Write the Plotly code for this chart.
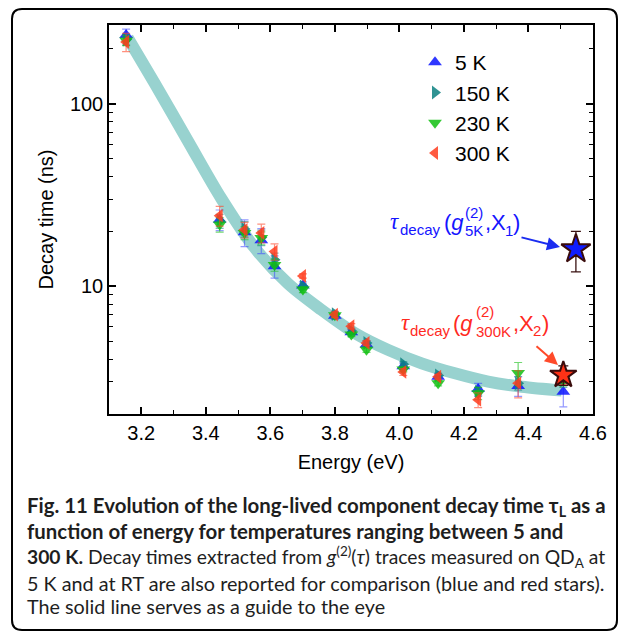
import math
import plotly.graph_objects as go

# ---- data ------------------------------------------------------------
energy = [3.153, 3.443, 3.52, 3.572, 3.613, 3.701, 3.80, 3.851, 3.898, 4.012, 4.12, 4.244, 4.368, 4.508]

tau_5K = [238, 23.2, 19.8, 17.9, 12.9, 10.1, 6.9, 5.6, 4.8, 3.65, 3.2, 2.74, 2.85, 2.65]
err_5K = [18, 3.0, 3.3, 2.8, 1.8, 0.5, 0.3, 0.2, 0.2, 0.15, 0.12, 0.2, 0.35, 0.46]

tau_150K = [225, 22.8, 20.6, 18.5, 14.0, 10.0, 7.05, 5.7, 4.9, 3.75, 3.25, 2.65, 2.95, 3.05]
err_150K = [15, 2.0, 2.0, 1.8, 1.2, 0.4, 0.25, 0.2, 0.15, 0.12, 0.1, 0.15, 0.25, 0.25]

tau_230K = [222, 21.8, 19.6, 18.4, 13.1, 9.6, 6.95, 5.45, 4.5, 3.5, 2.95, 2.6, 3.35, 3.05]
err_230K = [14, 2.0, 1.6, 1.5, 1.0, 0.35, 0.2, 0.15, 0.15, 0.1, 0.1, 0.2, 0.48, 0.2]

tau_300K = [218, 24.4, 20.4, 19.6, 15.5, 11.4, 7.0, 6.05, 4.9, 3.4, 3.2, 2.39, 2.95, 3.2]
err_300K = [25, 3.0, 2.0, 2.3, 1.6, 0.3, 0.25, 0.2, 0.15, 0.15, 0.1, 0.22, 0.5, 0.3]

# g(2) decay times (stars): 5 K on X1, 300 K on X2
star_energy = [4.547, 4.508]
star_tau = [16.0, 3.27]
star_err = [4.0, 0.4]

# guide-to-the-eye curve
guide_energy = [3.158, 3.241, 3.345, 3.448, 3.551, 3.655, 3.758, 3.862, 3.965, 4.069, 4.172, 4.275, 4.379, 4.503]
guide_tau = [230, 130, 62.4, 30.3, 16.3, 10.35, 7.45, 5.55, 4.49, 3.79, 3.34, 3.01, 2.82, 2.69]

x_ticks = [3.2, 3.4, 3.6, 3.8, 4.0, 4.2, 4.4, 4.6]

# ---- geometry ----------------------------------------------------------
W, H = 624, 632
ML, MR, MT, MB = 109, 31, 25, 218
PW = W - ML - MR
PH = H - MT - MB


def pxx(x):
    return (x - ML) / PW


def pxy(y):
    return (H - MB - y) / PH


AX_FONT = "Liberation Sans, Arial, Helvetica, sans-serif"
SERIF = "Liberation Serif, Times New Roman, serif"
CAP_FONT = "Lato, Open Sans, sans-serif"

fig = go.Figure()

fig.add_trace(go.Scatter(
    x=guide_energy, y=guide_tau, mode="lines",
    line=dict(color="#98d2cf", width=12, shape="spline", smoothing=0.9),
    showlegend=False, hoverinfo="skip",
))

series = [
    ("5 K", tau_5K, err_5K, "triangle-up", "#0a14ff", "rgba(60,70,255,0.55)"),
    ("150 K", tau_150K, err_150K, "triangle-right", "#0c8080", "rgba(20,130,130,0.55)"),
    ("230 K", tau_230K, err_230K, "triangle-down", "#10c010", "rgba(20,190,20,0.6)"),
    ("300 K", tau_300K, err_300K, "triangle-left", "#ff3d1f", "rgba(255,70,40,0.6)"),
]

for name, tau, err, sym, col, ecol in series:
    fig.add_trace(go.Scatter(
        x=energy, y=tau, mode="markers", name=name,
        marker=dict(symbol=sym, size=12, color=col, opacity=0.85, line=dict(width=0)),
        error_y=dict(type="data", array=err, visible=True, color=ecol, thickness=1.2, width=4),
    ))

fig.add_trace(go.Scatter(
    x=star_energy, y=star_tau, mode="markers", showlegend=False,
    marker=dict(symbol="star", size=[22, 20], color=["#0f1cff", "#ff3216"], opacity=1,
                line=dict(color="#3a0c0c", width=2)),
    error_y=dict(type="data", array=star_err, visible=True, color="#3a1212", thickness=1.3, width=5),
))

axis_common = dict(
    showline=True, linecolor="black", linewidth=1.5, mirror="allticks",
    ticks="inside", ticklen=7, tickwidth=1.5, tickcolor="black",
    showgrid=False, zeroline=False,
    tickfont=dict(family=AX_FONT, size=20, color="black"),
)

fig.update_xaxes(
    range=[3.1, 4.6], tickvals=x_ticks, ticktext=[f"{v:.1f}" for v in x_ticks],
    title=dict(text="Energy (eV)", font=dict(family=AX_FONT, size=20, color="black"), standoff=12),
    minor=dict(ticks="inside", ticklen=4, tickwidth=1.2, tickcolor="black", dtick=0.1, tick0=3.1, showgrid=False),
    **axis_common,
)
fig.update_yaxes(
    type="log", range=[math.log10(2), math.log10(270)], dtick=1,
    title=dict(text="Decay time (ns)", font=dict(family=AX_FONT, size=20, color="black"), standoff=11),
    minor=dict(ticks="inside", ticklen=4, tickwidth=1.2, tickcolor="black", dtick="D1", showgrid=False),
    **axis_common,
)

annotations = []


def label(text, x, y, size, color, family=AX_FONT):
    annotations.append(dict(
        text=text, x=pxx(x), y=pxy(y), xref="paper", yref="paper",
        xanchor="left", yanchor="middle", showarrow=False,
        font=dict(family=family, size=size, color=color),
    ))


# tau_decay(g(2)_5K, X1)
BLUE = "#1414ff"
label("<i>τ</i>", 388, 221, 23, BLUE, SERIF)
label("decay", 398, 229, 15, BLUE)
label("(<i>g</i>", 442, 223, 22, BLUE)
label("(2)", 463, 212, 15, BLUE)
label("5K", 463, 230, 15, BLUE)
label(",X", 483, 223, 22, BLUE)
label("1", 503, 230, 15, BLUE)
label(")", 511, 223, 22, BLUE)

# tau_decay(g(2)_300K, X2)
RED = "#ff2a1f"
label("<i>τ</i>", 399, 322, 23, RED, SERIF)
label("decay", 408, 330, 15, RED)
label("(<i>g</i>", 451, 323, 22, RED)
label("(2)", 474, 311, 15, RED)
label("300K", 474, 331, 15, RED)
label(",X", 511, 323, 22, RED)
label("2", 531, 330, 15, RED)
label(")", 540, 323, 22, RED)

# arrows pointing at the stars
for tail, head, col in [((520, 237), (560, 247), "#1a2cf0"), ((535, 345), (558, 365), "#ff4a2a")]:
    annotations.append(dict(
        x=pxx(head[0]), y=pxy(head[1]), xref="paper", yref="paper",
        ax=tail[0] - head[0], ay=tail[1] - head[1], axref="pixel", ayref="pixel",
        showarrow=True, arrowhead=2, arrowsize=1.3, arrowwidth=2, arrowcolor=col, text="",
    ))

# caption
cap_lines = [
    ("<b>Fig. 11 Evolution of the long-lived component decay time τ<sub>L</sub> as a</b>", 506, 20.4),
    ("<b>function of energy for temperatures ranging between 5 and</b>", 530.5, 20.4),
    ("<b>300 K.</b> Decay times extracted from <i>g</i><sup>(2)</sup>(<i>τ</i>) traces measured on QD<sub>A</sub> at", 557, 19.3),
    ("5 K and at RT are also reported for comparison (blue and red stars).", 582.5, 19.8),
    ("The solid line serves as a guide to the eye", 606, 19.8),
]
for text, y, size in cap_lines:
    annotations.append(dict(
        text=text, x=pxx(25), y=pxy(y), xref="paper", yref="paper",
        xanchor="left", yanchor="middle", showarrow=False,
        font=dict(family=CAP_FONT, size=size, color="#1e1e1e"),
    ))

# rounded outer frame
x0, x1, y0, y1 = pxx(12), pxx(617), pxy(630), pxy(9)
rx, ry = 10 / PW, 10 / PH
frame = (
    f"M {x0 + rx},{y1} L {x1 - rx},{y1} Q {x1},{y1} {x1},{y1 - ry} "
    f"L {x1},{y0 + ry} Q {x1},{y0} {x1 - rx},{y0} "
    f"L {x0 + rx},{y0} Q {x0},{y0} {x0},{y0 + ry} "
    f"L {x0},{y1 - ry} Q {x0},{y1} {x0 + rx},{y1} Z"
)

fig.update_layout(
    width=W, height=H,
    margin=dict(l=ML, r=MR, t=MT, b=MB),
    paper_bgcolor="white", plot_bgcolor="white",
    font=dict(family=AX_FONT, color="black"),
    legend=dict(
        x=pxx(415), y=pxy(42), xanchor="left", yanchor="top",
        bgcolor="rgba(0,0,0,0)", borderwidth=0,
        font=dict(family=AX_FONT, size=21, color="black"),
        tracegroupgap=0, itemwidth=30,
    ),
    annotations=annotations,
    shapes=[dict(type="path", path=frame, xref="paper", yref="paper",
                 line=dict(color="black", width=2), layer="above")],
)

fig.write_html("out.html")
